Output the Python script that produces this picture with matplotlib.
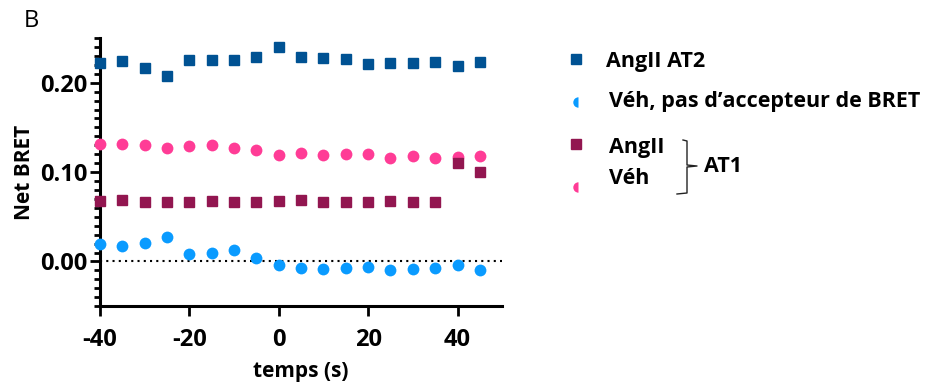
import matplotlib.pyplot as plt
from matplotlib.lines import Line2D
from matplotlib.ticker import MultipleLocator

plt.rcParams['font.family'] = ['Open Sans', 'DejaVu Sans']
plt.rcParams['axes.unicode_minus'] = False

# temps (s)
temps = [-40, -35, -30, -25, -20, -15, -10, -5, 0, 5, 10, 15, 20, 25, 30, 35, 40, 45]

angii_at2 = [0.222, 0.224, 0.216, 0.207, 0.225, 0.225, 0.225, 0.229, 0.240, 0.229,
             0.228, 0.227, 0.221, 0.222, 0.222, 0.223, 0.219, 0.223]
veh_sans_accepteur = [0.019, 0.017, 0.021, 0.027, 0.008, 0.010, 0.013, 0.004, -0.004, -0.007,
                      -0.008, -0.007, -0.006, -0.009, -0.008, -0.007, -0.004, -0.009]
angii_at1 = [0.068, 0.069, 0.066, 0.067, 0.066, 0.068, 0.067, 0.066, 0.068, 0.069,
             0.066, 0.067, 0.066, 0.068, 0.067, 0.066, 0.110, 0.100]
veh_at1 = [0.131, 0.131, 0.130, 0.127, 0.129, 0.130, 0.127, 0.125, 0.119, 0.121,
           0.119, 0.120, 0.120, 0.116, 0.118, 0.116, 0.117, 0.118]

bleu_fonce = '#005293'
bleu_clair = '#0A9BFF'
bordeaux = '#921650'
rose = '#FF3C96'

fig = plt.figure(figsize=(9.3, 3.92), dpi=100)
ax = fig.add_axes([0.1075, 0.219, 0.4325, 0.684])

# ligne pointillée à zéro
ax.axhline(0, color='black', linestyle=(0, (1, 2)), linewidth=1.5, zorder=1)

ax.plot(temps, angii_at2, 's', color=bleu_fonce, markersize=7.5, clip_on=False, zorder=3)
ax.plot(temps, veh_sans_accepteur, 'o', color=bleu_clair, markersize=8.5, markeredgewidth=0, clip_on=False, zorder=3)
ax.plot(temps, veh_at1, 'o', color=rose, markersize=8.5, markeredgewidth=0, clip_on=False, zorder=3)
ax.plot(temps, angii_at1, 's', color=bordeaux, markersize=7.5, clip_on=False, zorder=4)

ax.set_xlim(-40, 50)
ax.set_ylim(-0.05, 0.25)
ax.set_xticks([-40, -20, 0, 20, 40])
ax.set_yticks([0.0, 0.1, 0.2])
ax.set_yticklabels(['0.00', '0.10', '0.20'])
ax.yaxis.set_minor_locator(MultipleLocator(0.01))

for s in ['top', 'right']:
    ax.spines[s].set_visible(False)
for s in ['left', 'bottom']:
    ax.spines[s].set_linewidth(2.2)

ax.tick_params(axis='both', which='major', length=7, width=2, labelsize=17, pad=2)
ax.tick_params(axis='x', which='major', pad=9)
ax.tick_params(axis='y', which='minor', length=4, width=2)
for lab in ax.get_xticklabels() + ax.get_yticklabels():
    lab.set_fontweight('bold')

ax.set_xlabel('temps (s)', fontsize=15, fontweight='bold', labelpad=6)
ax.set_ylabel('Net BRET', fontsize=15, fontweight='bold', labelpad=4)

fig.text(24 / 930, 1 - 21 / 392, 'B', fontsize=17, va='center', ha='left')

# légende faite à la main
W, H = 930.0, 392.0
def fx(px):
    return px / W
def fy(py):
    return 1 - py / H

fig.add_artist(Line2D([fx(576)], [fy(59)], marker='s', color=bleu_fonce, markersize=6.5, linestyle=''))
fig.add_artist(Line2D([fx(578)], [fy(102)], marker='o', fillstyle='left', color=bleu_clair,
                      markersize=7.5, markeredgewidth=0, linestyle=''))
fig.add_artist(Line2D([fx(576)], [fy(144)], marker='s', color=bordeaux, markersize=6.5, linestyle=''))
fig.add_artist(Line2D([fx(578)], [fy(187)], marker='o', fillstyle='left', color=rose,
                      markersize=7.5, markeredgewidth=0, linestyle=''))

fs = 15.5
fig.text(fx(606), fy(61), 'AngII AT2', fontsize=fs, fontweight='bold', va='center')
fig.text(fx(609), fy(102), 'Véh, pas d\u2019accepteur de BRET', fontsize=fs, fontweight='bold', va='center')
fig.text(fx(609), fy(147), 'AngII', fontsize=fs, fontweight='bold', va='center')
fig.text(fx(609), fy(179), 'Véh', fontsize=fs, fontweight='bold', va='center')
fig.text(fx(704), fy(166), 'AT1', fontsize=fs, fontweight='bold', va='center')

# accolade
bx = [683, 687, 687, 697, 687, 687, 677]
by = [140, 141, 165, 166, 167, 193, 194]
fig.add_artist(Line2D([fx(v) for v in bx], [fy(v) for v in by], color='#222222', linewidth=1))

fig.savefig('out.png', dpi=100)
